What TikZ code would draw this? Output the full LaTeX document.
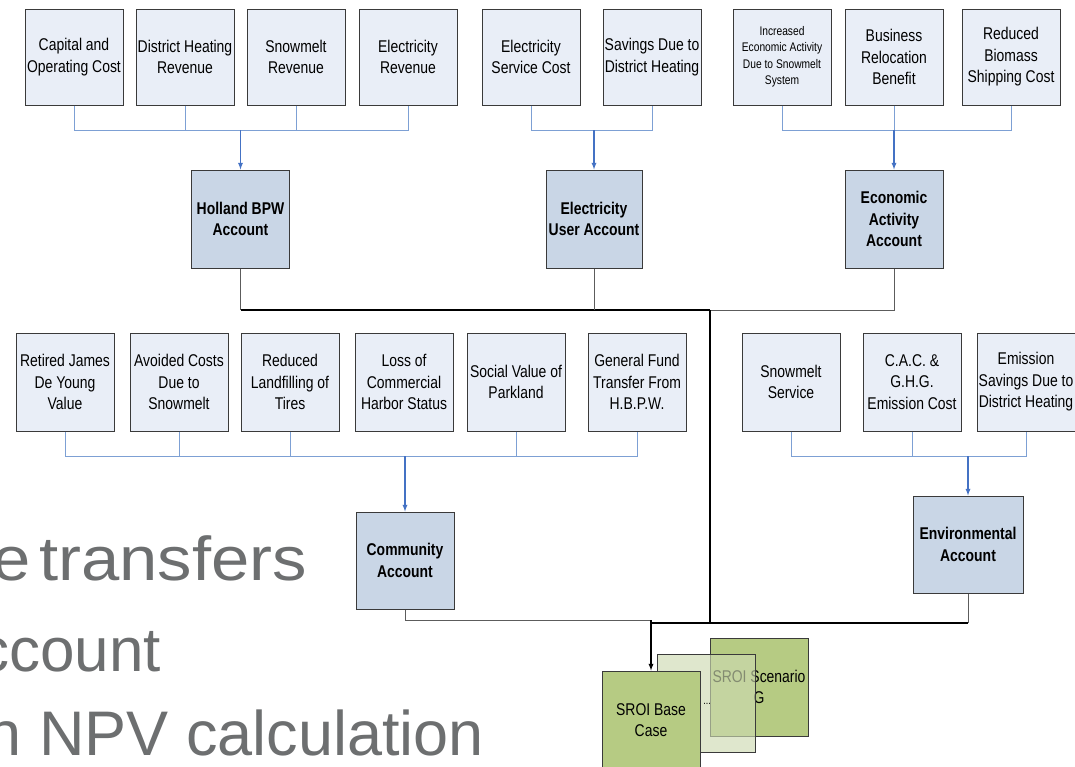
\documentclass[tikz,border=0pt]{standalone}
\usepackage{fontspec}
\setmainfont{Liberation Sans}[FakeStretch=0.82]
\newfontfamily\slidefont{Liberation Sans}
\newfontfamily\slidewide{Liberation Sans}[FakeStretch=1.11]
\usetikzlibrary{arrows,calc,positioning}
\definecolor{itemfill}{HTML}{E9EEF7}
\definecolor{acctfill}{HTML}{C9D6E6}
\definecolor{boxedge}{HTML}{3A3A3A}
\definecolor{feedblue}{HTML}{7DA0D4}
\definecolor{arrowblue}{HTML}{4472C4}
\definecolor{stemgray}{HTML}{5C5C5C}
\definecolor{sroifill}{HTML}{B6CB83}
\definecolor{sroilight}{HTML}{CDDAB1}
\definecolor{slidegray}{HTML}{6D6F70}
\tikzset{
	itembox/.style={draw=boxedge,fill=itemfill,line width=1pt,minimum width=98pt,minimum height=96pt,inner sep=1pt,align=center,font=\fontsize{17}{21.5}\selectfont},
	acctbox/.style={itembox,fill=acctfill,minimum height=98pt,font=\fontsize{17}{21.5}\selectfont\bfseries},
	sroibox/.style={draw=boxedge,fill=sroifill,line width=1pt,minimum width=98pt,minimum height=98pt,inner sep=1pt,align=center,font=\fontsize{17}{21.5}\selectfont},
	bullettext/.style={text=slidegray,inner sep=0pt,anchor=base east,font=\slidefont\fontsize{62}{74}\selectfont},
	feed/.style={draw=feedblue,line width=1pt},
	feedarrow/.style={draw=arrowblue,line width=1.3pt,-latex},
	stem/.style={draw=stemgray,line width=1pt},
	trunk/.style={draw=black,line width=1.3pt},
}
\begin{document}
\begin{tikzpicture}[x=1pt,y=-1pt]
				\clip (0,0) rectangle (1075,766);
				% slide text behind the chart
				\node (bulletA) at (307,580) [bullettext,font=\slidewide\fontsize{62}{74}\selectfont] {\spaceskip=8pt e transfers};
				\node (bulletB) at (161,671) [bullettext] {ccount};
				\node (bulletC) at (484,755) [bullettext,font=\slidefont\fontsize{63}{75}\selectfont] {n NPV calculation};
				% top row
				\node (capcost) at (74,57) [itembox] {Capital and\\Operating Cost};
				\node (dhrev) at (185,57) [itembox] {District Heating\\Revenue};
				\node (smrev) at (296,57) [itembox] {Snowmelt\\Revenue};
				\node (elecrev) at (408,57) [itembox] {Electricity\\Revenue};
				\node (elecsvc) at (531,57) [itembox] {Electricity\\Service Cost};
				\node (dhsave) at (652,57) [itembox] {Savings Due to\\District Heating};
				\node (econinc) at (782,57) [itembox,font=\fontsize{12.5}{16.5}\selectfont] {Increased\\Economic Activity\\Due to Snowmelt\\System};
				\node (bizreloc) at (894,57) [itembox] {Business\\Relocation\\Benefit};
				\node (biomass) at (1011,57) [itembox] {Reduced\\Biomass\\Shipping Cost};
				% accounts
				\node (holland) at (240.5,219) [acctbox] {Holland BPW\\Account};
				\node (elecuser) at (594,219) [acctbox,minimum width=96pt] {Electricity\\User Account};
				\node (econ) at (894,219) [acctbox] {Economic\\Activity\\Account};
				% middle row
				\node (deyoung) at (65,382) [itembox,minimum height=98pt] {Retired James\\De Young\\Value};
				\node (avoided) at (179,382) [itembox,minimum height=98pt] {Avoided Costs\\Due to\\Snowmelt};
				\node (tires) at (290,382) [itembox,minimum height=98pt] {Reduced\\Landfilling of\\Tires};
				\node (harbor) at (404,382) [itembox,minimum height=98pt] {Loss of\\Commercial\\Harbor Status};
				\node (parkland) at (516,382) [itembox,minimum height=98pt] {Social Value of\\Parkland};
				\node (genfund) at (637,382) [itembox,minimum height=98pt] {General Fund\\Transfer From\\H.B.P.W.};
				\node (smservice) at (791,382) [itembox,minimum height=98pt] {Snowmelt\\Service};
				\node (caccost) at (912,382) [itembox,minimum height=98pt] {C.A.C. \&\\G.H.G.\\Emission Cost};
				\node (emsave) at (1026,382) [itembox,minimum height=98pt] {Emission\\Savings Due to\\District Heating};
				\node (comm) at (405,560.5) [acctbox,minimum height=97pt] {Community\\Account};
				\node (env) at (968,544.5) [acctbox,minimum width=110pt,minimum height=97pt] {Environmental\\Account};
				% SROI scenarios
				\node (scenG) at (759,687) [sroibox] {SROI Scenario\\G};
				\node (scenmid) at (706.5,703) [sroibox,fill=sroilight,fill opacity=0.64,draw opacity=1] {};
				\node (base) at (651,720) [sroibox] {SROI Base\\Case};
				\node (dots) at (707,704) [inner sep=0pt,font=\fontsize{11}{11}\selectfont] {...};
				% feeder buses
				\coordinate (busA) at (0,130);
				\coordinate (busB) at (0,456);
				\draw[feed] (capcost.south) -- (capcost.south|-busA) -- (elecrev.south|-busA) -- (elecrev.south);
				\draw[feed] (dhrev.south) -- (dhrev.south|-busA);
				\draw[feed] (smrev.south) -- (smrev.south|-busA);
				\draw[feedarrow] (holland.north|-busA) -- (holland.north);
				\draw[feed] (elecsvc.south) -- (elecsvc.south|-busA) -- (dhsave.south|-busA) -- (dhsave.south);
				\draw[feedarrow] (elecuser.north|-busA) -- (elecuser.north);
				\draw[feed] (econinc.south) -- (econinc.south|-busA) -- (biomass.south|-busA) -- (biomass.south);
				\draw[feed] (bizreloc.south) -- (bizreloc.south|-busA);
				\draw[feedarrow] (econ.north|-busA) -- (econ.north);
				\draw[feed] (deyoung.south) -- (deyoung.south|-busB) -- (genfund.south|-busB) -- (genfund.south);
				\draw[feed] (avoided.south) -- (avoided.south|-busB);
				\draw[feed] (tires.south) -- (tires.south|-busB);
				\draw[feed] (parkland.south) -- (parkland.south|-busB);
				\draw[feedarrow] (comm.north|-busB) -- (comm.north);
				\draw[feed] (smservice.south) -- (smservice.south|-busB) -- (emsave.south|-busB) -- (emsave.south);
				\draw[feed] (caccost.south) -- (caccost.south|-busB);
				\draw[feedarrow] (env.north|-busB) -- (env.north);
				% accounts into the base case
				\coordinate (hub) at (710,310);
				\coordinate (drop) at (651,620);
				\coordinate (join) at (710,623);
				\draw[stem] (holland.south) -- (holland.south|-hub);
				\draw[trunk] (holland.south|-hub) -- (hub);
				\draw[stem] (elecuser.south) -- (elecuser.south|-hub);
				\draw[stem] (econ.south) |- (hub);
				\draw[trunk] (hub) -- (join);
				\draw[stem] (comm.south) |- (drop);
				\draw[stem] (env.south) -- (env.south|-join);
				\draw[trunk] (env.south|-join) -- (drop|-join);
				\draw[trunk,-latex] (drop) -- (base.north);
\end{tikzpicture}
\end{document}
